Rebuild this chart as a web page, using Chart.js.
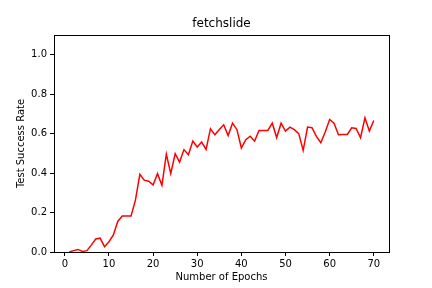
<!DOCTYPE html>
<html>
<head>
<meta charset="utf-8">
<script src="https://cdn.jsdelivr.net/npm/chart.js@4"></script>
<style>
  body { margin: 0; background: #fff; }
</style>
</head>
<body>
<canvas id="chart" width="432" height="288"></canvas>
<script>
var chartTitle = "fetchslide";
var epochs = [];
for (var i = 1; i <= 70; i++) epochs.push(i);
var successRate = [
  0.0, 0.007, 0.013, 0.003, 0.007, 0.035, 0.066, 0.07, 0.027, 0.052,
  0.086, 0.155, 0.182, 0.182, 0.182, 0.263, 0.394, 0.364, 0.359, 0.34,
  0.397, 0.338, 0.496, 0.397, 0.498, 0.456, 0.519, 0.493, 0.562, 0.532,
  0.557, 0.52, 0.625, 0.594, 0.621, 0.645, 0.59, 0.653, 0.62, 0.527,
  0.569, 0.587, 0.562, 0.616, 0.616, 0.616, 0.653, 0.58, 0.653, 0.613,
  0.633, 0.62, 0.6, 0.515, 0.633, 0.63, 0.586, 0.554, 0.608, 0.672,
  0.653, 0.594, 0.596, 0.596, 0.63, 0.626, 0.579, 0.68, 0.613, 0.667
];
var xTicks = [0, 10, 20, 30, 40, 50, 60, 70];
var yTicks = [0, 0.2, 0.4, 0.6, 0.8, 1.0];

var points = epochs.map(function(e, i){ return {x: e, y: successRate[i]}; });

// frame + title drawn over the chart area, like matplotlib
var framePlugin = {
  id: 'frame',
  afterDraw: function(chart) {
    var ctx = chart.ctx, a = chart.chartArea;
    ctx.save();
    ctx.strokeStyle = '#000';
    ctx.lineWidth = 1;
    ctx.strokeRect(Math.round(a.left) + 0.5, Math.round(a.top) + 0.5,
                   Math.round(a.right - a.left), Math.round(a.bottom - a.top));
    ctx.fillStyle = '#000';
    ctx.font = '12px "DejaVu Sans"';
    ctx.textAlign = 'center';
    ctx.textBaseline = 'middle';
    ctx.fillText(chartTitle, (a.left + a.right) / 2, 24);
    ctx.restore();
  }
};

var tickFont = {family: 'DejaVu Sans', size: 10};

new Chart(document.getElementById('chart').getContext('2d'), {
  type: 'line',
  data: {
    datasets: [{
      data: points,
      borderColor: '#ff0000',
      borderWidth: 1.5,
      pointRadius: 0,
      tension: 0,
      fill: false
    }]
  },
  options: {
    responsive: false,
    animation: false,
    layout: { padding: { top: 35, right: 43, left: 0, bottom: 0 } },
    plugins: { legend: { display: false }, tooltip: { enabled: false }, title: { display: false } },
    scales: {
      x: {
        type: 'linear',
        min: -2.45,
        max: 73.45,
        afterBuildTicks: function(axis){ axis.ticks = xTicks.map(function(v){ return {value: v}; }); },
        afterFit: function(axis){ axis.height = 36; },
        ticks: { color: '#000', font: tickFont, padding: 2, maxRotation: 0 },
        grid: { display: true, drawOnChartArea: false, drawTicks: true, tickLength: 4, color: '#000' },
        border: { display: true, color: '#000' },
        title: { display: true, text: 'Number of Epochs', color: '#000', font: tickFont, padding: { top: 0, bottom: 5 } }
      },
      y: {
        min: 0,
        max: 1.1,
        afterBuildTicks: function(axis){ axis.ticks = yTicks.map(function(v){ return {value: v}; }); },
        afterFit: function(axis){ axis.width = 54; },
        ticks: { color: '#000', font: tickFont, padding: 3,
          callback: function(v){ return v.toFixed(1); } },
        grid: { display: true, drawOnChartArea: false, drawTicks: true, tickLength: 4, color: '#000' },
        border: { display: true, color: '#000' },
        title: { display: true, text: 'Test Success Rate', color: '#000', font: tickFont, padding: { top: 15, bottom: 0 } }
      }
    }
  },
  plugins: [framePlugin]
});
</script>
</body>
</html>
